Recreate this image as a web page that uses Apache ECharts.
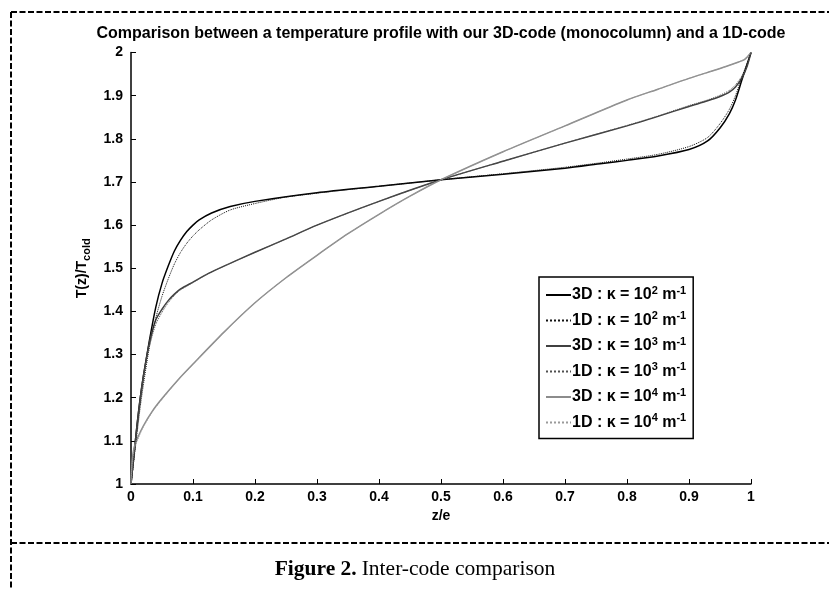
<!DOCTYPE html>
<html>
<head>
<meta charset="utf-8">
<script src="https://cdn.jsdelivr.net/npm/echarts@6/dist/echarts.min.js"></script>
<style>
html,body{margin:0;padding:0;background:#fff;}
#chart{width:829px;height:590px;}
</style>
</head>
<body>
<div id="chart"></div>
<script>
// ---- Data (z/e, T(z)/Tcold) ----
const xTicks = [0, 0.1, 0.2, 0.3, 0.4, 0.5, 0.6, 0.7, 0.8, 0.9, 1];
const yTicks = [1, 1.1, 1.2, 1.3, 1.4, 1.5, 1.6, 1.7, 1.8, 1.9, 2];

const codes = ['3D', '1D', '3D', '1D', '3D', '1D'];
const kappaExp = ['2', '2', '3', '3', '4', '4'];

const k2_3d = [[0,1],[0.005,1.07],[0.01,1.14],[0.015,1.2],[0.02,1.25],[0.03,1.335],[0.04,1.41],[0.05,1.465],[0.06,1.505],[0.07,1.54],[0.08,1.565],[0.09,1.585],[0.1,1.6],[0.11,1.612],[0.13,1.628],[0.16,1.643],[0.2,1.655],[0.3,1.675],[0.4,1.69],[0.5,1.705],[0.6,1.718],[0.7,1.732],[0.76,1.743],[0.8,1.75],[0.85,1.76],[0.9,1.775],[0.93,1.795],[0.95,1.825],[0.965,1.858],[0.975,1.89],[0.985,1.935],[0.993,1.97],[1,2.0]];
const k2_1d = [[0,1],[0.005,1.06],[0.01,1.12],[0.015,1.18],[0.02,1.23],[0.03,1.32],[0.04,1.385],[0.05,1.435],[0.06,1.475],[0.07,1.51],[0.08,1.537],[0.09,1.558],[0.1,1.575],[0.11,1.589],[0.13,1.612],[0.16,1.635],[0.2,1.65],[0.25,1.665],[0.3,1.674],[0.4,1.69],[0.5,1.705],[0.6,1.719],[0.7,1.734],[0.76,1.745],[0.8,1.753],[0.85,1.764],[0.9,1.782],[0.93,1.803],[0.95,1.835],[0.965,1.868],[0.975,1.9],[0.985,1.942],[0.993,1.972],[1,2.0]];
const k3_3d = [[0,1],[0.005,1.07],[0.01,1.14],[0.015,1.2],[0.02,1.25],[0.03,1.33],[0.04,1.38],[0.05,1.405],[0.06,1.425],[0.07,1.44],[0.08,1.452],[0.1,1.468],[0.125,1.488],[0.15,1.505],[0.2,1.537],[0.25,1.568],[0.3,1.6],[0.4,1.655],[0.5,1.705],[0.6,1.748],[0.7,1.79],[0.8,1.83],[0.85,1.852],[0.9,1.875],[0.93,1.888],[0.95,1.898],[0.965,1.908],[0.975,1.92],[0.985,1.94],[0.993,1.965],[1,2.0]];
const k3_1d = [[0,1],[0.005,1.065],[0.01,1.13],[0.015,1.19],[0.02,1.24],[0.03,1.32],[0.04,1.37],[0.05,1.398],[0.06,1.42],[0.07,1.437],[0.08,1.45],[0.1,1.467],[0.125,1.488],[0.15,1.505],[0.2,1.537],[0.25,1.568],[0.3,1.6],[0.4,1.655],[0.5,1.705],[0.6,1.748],[0.7,1.79],[0.8,1.831],[0.85,1.853],[0.9,1.877],[0.93,1.89],[0.95,1.901],[0.965,1.912],[0.975,1.925],[0.985,1.945],[0.993,1.968],[1,2.0]];
const k4_3d = [[0,1],[0.002,1.055],[0.005,1.085],[0.01,1.105],[0.02,1.135],[0.035,1.17],[0.05,1.198],[0.075,1.24],[0.1,1.278],[0.15,1.352],[0.2,1.42],[0.25,1.478],[0.3,1.53],[0.35,1.58],[0.4,1.625],[0.45,1.667],[0.5,1.705],[0.6,1.77],[0.7,1.83],[0.8,1.89],[0.85,1.915],[0.9,1.94],[0.95,1.963],[0.98,1.978],[0.99,1.984],[1,2.0]];
const k4_1d = [[0,1],[0.002,1.05],[0.005,1.08],[0.01,1.1],[0.02,1.132],[0.035,1.168],[0.05,1.196],[0.075,1.239],[0.1,1.277],[0.15,1.352],[0.2,1.42],[0.25,1.478],[0.3,1.53],[0.35,1.58],[0.4,1.625],[0.45,1.667],[0.5,1.705],[0.6,1.77],[0.7,1.83],[0.8,1.89],[0.85,1.915],[0.9,1.94],[0.95,1.963],[0.98,1.978],[0.99,1.985],[1,2.0]];

const seriesData = [k2_3d, k2_1d, k3_3d, k3_1d, k4_3d, k4_1d];
const seriesColors = ['#000000', '#111111', '#404040', '#505050', '#8c8c8c', '#9a9a9a'];

const names = codes.map((c, i) => c + ' : κ = 10^' + kappaExp[i] + ' m^-1');

const chart = echarts.init(document.getElementById('chart'), null, {renderer: 'canvas'});

const series = seriesData.map((d, i) => ({
  name: names[i],
  type: 'line',
  data: d,
  symbol: 'none',
  smooth: 0.25,
  z: i % 2 === 0 ? 2 : 3,
  lineStyle: {
    color: seriesColors[i],
    width: i % 2 === 0 ? 1.5 : 1,
    type: i % 2 === 0 ? 'solid' : 'dotted'
  },
  itemStyle: {color: seriesColors[i]},
  emphasis: {disabled: true},
  animation: false
}));

const FONT = 'Liberation Sans, Arial, sans-serif';
const SERIF = 'Liberation Serif, Times New Roman, serif';

const option = {
  backgroundColor: '#ffffff',
  animation: false,
  title: [
    {
      text: 'Comparison between a temperature profile with our 3D-code (monocolumn) and a 1D-code',
      left: 441, top: 26, textAlign: 'center', padding: 0,
      textStyle: {fontFamily: FONT, fontSize: 16, fontWeight: 'bold', color: '#000'}
    },
    {
      text: '{b|Figure 2.} {r|Inter-code comparison}',
      left: 415, top: 558, textAlign: 'center', padding: 0,
      textStyle: {
        fontWeight: 'normal',
        rich: {
          b: {fontFamily: SERIF, fontSize: 21.5, fontWeight: 'bold', color: '#000'},
          r: {fontFamily: SERIF, fontSize: 21.5, fontWeight: 'normal', color: '#000'}
        }
      }
    }
  ],
  grid: {left: 131, top: 52.5, right: 78, bottom: 106, containLabel: false},
  xAxis: {
    type: 'value', min: xTicks[0], max: xTicks[xTicks.length - 1], interval: 0.1,
    name: 'z/e', nameLocation: 'middle', nameGap: 23,
    nameTextStyle: {fontFamily: FONT, fontSize: 14, fontWeight: 'bold', color: '#000'},
    axisLine: {show: true, lineStyle: {color: '#000', width: 1.5}},
    axisTick: {show: true, inside: true, length: 5, lineStyle: {color: '#000', width: 1}},
    axisLabel: {fontFamily: FONT, fontSize: 14, fontWeight: 'bold', color: '#000', margin: 6,
      formatter: v => String(+v.toFixed(1))},
    splitLine: {show: false}
  },
  yAxis: {
    type: 'value', min: yTicks[0], max: yTicks[yTicks.length - 1], interval: 0.1,
    name: 'T(z)/T{s|cold}', nameLocation: 'middle', nameGap: 38, nameRotate: 90,
    nameTextStyle: {fontFamily: FONT, fontSize: 14, fontWeight: 'bold', color: '#000', lineHeight: 20,
      rich: {s: {fontFamily: FONT, fontSize: 11, fontWeight: 'bold', color: '#000', verticalAlign: 'bottom', lineHeight: 12}}},
    axisLine: {show: true, lineStyle: {color: '#000', width: 1.5}},
    axisTick: {show: true, inside: true, length: 5, lineStyle: {color: '#000', width: 1}},
    axisLabel: {fontFamily: FONT, fontSize: 14, fontWeight: 'bold', color: '#000', margin: 8,
      formatter: v => String(+v.toFixed(1))},
    splitLine: {show: false}
  },
  legend: {
    orient: 'vertical',
    left: 539, top: 277,
    padding: [8, 7, 8, 6],
    itemWidth: 25, itemHeight: 14, itemGap: 7.5,
    backgroundColor: '#fff',
    borderColor: '#000', borderWidth: 1.5, borderRadius: 0,
    selectedMode: false,
    data: names,
    itemStyle: {color: 'transparent', borderColor: 'transparent', borderWidth: 0, opacity: 0},
    formatter: name => {
      const m = name.match(/^(\w+) : κ = 10\^(\d) m\^-1$/);
      return '{n|' + m[1] + ' : κ = 10}{s|' + m[2] + '}{n| m}{s|-1}';
    },
    textStyle: {
      fontFamily: FONT, fontSize: 16, fontWeight: 'bold', color: '#000', padding: [0, 0, 0, -4],
      rich: {
        n: {fontFamily: FONT, fontSize: 16, fontWeight: 'bold', color: '#000', lineHeight: 20},
        s: {fontFamily: FONT, fontSize: 11, fontWeight: 'bold', color: '#000', verticalAlign: 'top', lineHeight: 8}
      }
    }
  },
  graphic: [
    {type: 'line', shape: {x1: 11, y1: 12, x2: 11, y2: 590}, style: {stroke: '#000', lineWidth: 2, lineDash: [6, 2.5]}, silent: true},
    {type: 'line', shape: {x1: 11, y1: 12, x2: 829, y2: 12}, style: {stroke: '#000', lineWidth: 2, lineDash: [6, 2.5]}, silent: true},
    {type: 'line', shape: {x1: 11, y1: 543, x2: 829, y2: 543}, style: {stroke: '#000', lineWidth: 2, lineDash: [6, 2.5]}, silent: true}
  ],
  series: series
};

chart.setOption(option);
</script>
</body>
</html>
